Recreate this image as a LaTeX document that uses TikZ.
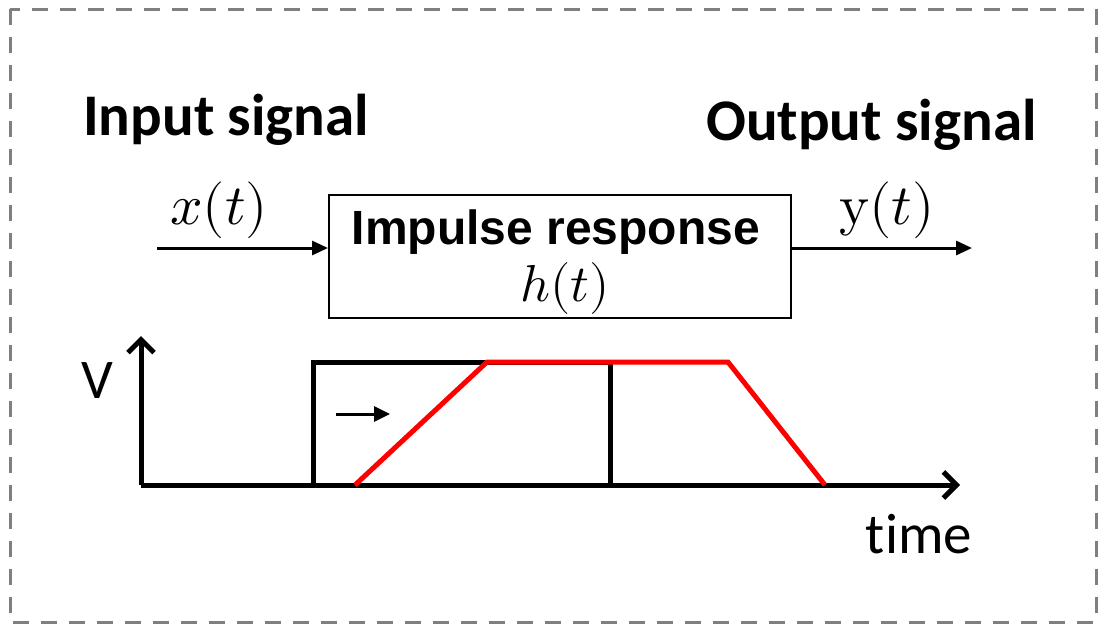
\documentclass[tikz,border=0pt]{standalone}
\usepackage{fontspec}
\usepackage{unicode-math}
\setmainfont{Carlito}
\setmathfont{Latin Modern Math}
\newfontfamily\arialb{Liberation Sans}
\usetikzlibrary{arrows.meta}
\definecolor{bordergray}{HTML}{7F7F7F}
\definecolor{sigred}{HTML}{FF0000}
\begin{document}
\begin{tikzpicture}[x=1pt,y=-1pt,
  title/.style={font=\fontsize{59}{60}\selectfont\bfseries, inner sep=0pt},
  mathlbl/.style={font=\fontsize{57}{57}\selectfont, inner sep=0pt},
  sigarrow/.style={line width=3pt, -{Triangle[length=16pt,width=14pt]}},
  axis/.style={line width=5pt, -{Straight Barb[length=13pt,width=26pt,line width=5pt]}},
  pulse/.style={line width=5pt, line join=miter},
  ramp/.style={line width=5pt, draw=sigred, line join=miter}]
\useasboundingbox (0,0) rectangle (1105,630);
\draw[bordergray, line width=3pt, dash pattern=on 16pt off 12pt] (10,9) rectangle (1096,622);

\node[title, anchor=base west] (in) at (83,135) {Input signal};
\node[title, anchor=base west] (out) at (706,140) {Output signal};

\node[draw, line width=2pt, minimum width=462pt, minimum height=123pt, inner sep=0pt] (box) at (560,256.5) {};
\node[inner sep=0pt, font=\fontsize{48}{48}\selectfont\arialb\bfseries] (imp) at (556,232) {Impulse response};
\node[inner sep=0pt, font=\fontsize{52}{52}\selectfont] (h) at (565,288) {$h(t)$};

\coordinate (xs) at (157,248);
\coordinate (ye) at (972,248);
\draw[sigarrow] (xs) -- (xs -| box.west);
\draw[sigarrow] (box.east |- ye) -- (ye);
\node[mathlbl] (x) at (219,210) {$x(t)$};
\node[mathlbl] (y) at (887,210) {$\symup{y}(t)$};

\coordinate (o) at (141,485);
\coordinate (ytop) at (141,336);
\coordinate (xend) at (960,485);
\draw[axis] (o) -- (ytop);
\draw[axis] (o) -- (xend);
\node[inner sep=0pt, font=\fontsize{56}{56}\selectfont] (V) at (97,381) {V};
\node[inner sep=0pt, font=\fontsize{57}{57}\selectfont, anchor=base] (time) at (919,553) {t\kern0pt ime};

\coordinate (p1) at (313,485);
\coordinate (p2) at (313,362);
\coordinate (p3) at (610,362);
\coordinate (p4) at (610,485);
\draw[pulse] (p1) -- (p2) -- (p3) -- (p4);

\coordinate (r1) at (355,485);
\coordinate (r2) at (487,362);
\coordinate (r3) at (728,362);
\coordinate (r4) at (825,485);
\draw[ramp] (r1) -- (r2) -- (r3) -- (r4);

\coordinate (a1) at (336,414);
\coordinate (a2) at (390,414);
\draw[line width=3pt, -{Triangle[length=16pt,width=15pt]}] (a1) -- (a2);
\end{tikzpicture}
\end{document}
